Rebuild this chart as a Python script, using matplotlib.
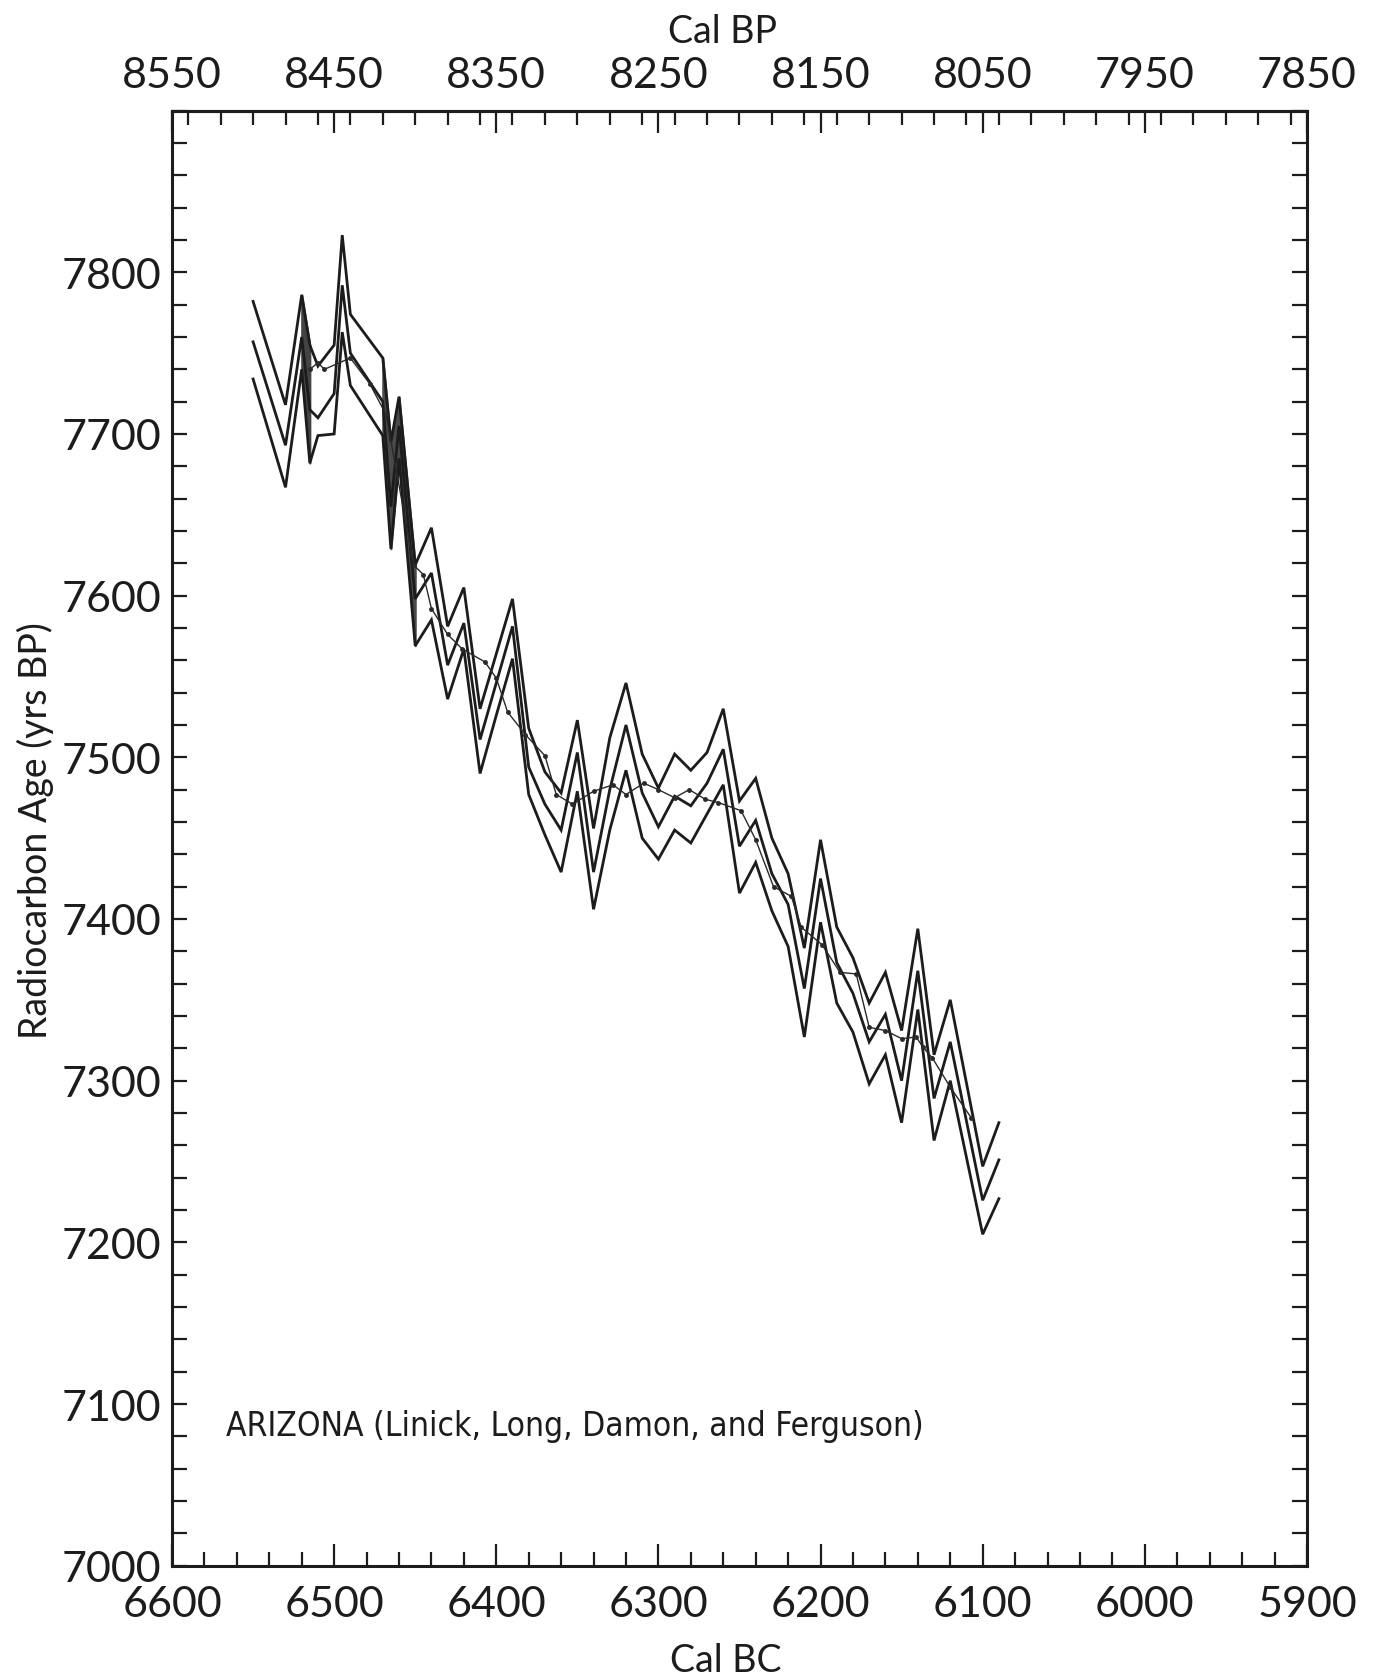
import numpy as np
import matplotlib
matplotlib.use("Agg")
import matplotlib.pyplot as plt
from matplotlib.ticker import MultipleLocator

# calendar years (BC) of the curve vertices
cal_bc = [6550, 6530, 6520, 6515, 6510, 6500, 6495, 6490, 6470, 6465, 6460, 6450,
          6440, 6430, 6420, 6410, 6400, 6390, 6380, 6370, 6360, 6350, 6340, 6330,
          6320, 6310, 6300, 6290, 6280, 6270, 6260, 6250, 6240, 6230, 6220, 6210,
          6200, 6190, 6180, 6170, 6160, 6150, 6140, 6130, 6120, 6100, 6090]

# upper (+1 sigma), central and lower (-1 sigma) radiocarbon ages
age_upper = [7782, 7718, 7786, 7755, 7742, 7755, 7823, 7774, 7747, 7695, 7723, 7619,
             7642, 7581, 7605, 7530, 7564, 7598, 7518, 7491, 7478, 7523, 7456, 7512,
             7546, 7502, 7481, 7502, 7492, 7503, 7530, 7473, 7487, 7450, 7428, 7382,
             7449, 7395, 7376, 7348, 7367, 7331, 7394, 7316, 7350, 7247, 7274]
age_mid = [7757, 7693, 7760, 7715, 7710, 7725, 7792, 7750, 7720, 7655, 7705, 7598,
           7614, 7557, 7583, 7511, 7546, 7581, 7494, 7471, 7455, 7503, 7429, 7480,
           7520, 7478, 7457, 7476, 7470, 7484, 7505, 7445, 7461, 7428, 7409, 7357,
           7425, 7373, 7354, 7324, 7341, 7300, 7368, 7289, 7324, 7226, 7251]
age_lower = [7734, 7667, 7740, 7682, 7699, 7700, 7763, 7730, 7699, 7629, 7685, 7569,
             7585, 7536, 7567, 7490, 7526, 7561, 7477, 7452, 7429, 7479, 7406, 7455,
             7492, 7450, 7437, 7455, 7447, 7465, 7483, 7416, 7435, 7405, 7383, 7327,
             7398, 7348, 7330, 7298, 7316, 7274, 7344, 7263, 7300, 7205, 7227]

# thin comparison curve with small markers
thin_bc = [6515, 6510, 6506, 6490, 6478, 6468, 6451, 6445, 6440, 6430, 6421, 6407,
           6400, 6393, 6382, 6370, 6363, 6353, 6340, 6328, 6320, 6309, 6300, 6290,
           6281, 6271, 6263, 6249, 6240, 6229, 6218, 6212, 6199, 6188, 6178, 6170,
           6160, 6150, 6141, 6137, 6131, 6120, 6107]
thin_age = [7740, 7744, 7740, 7747, 7731, 7712, 7619, 7613, 7592, 7576, 7567, 7559,
            7549, 7528, 7514, 7501, 7477, 7471, 7479, 7483, 7477, 7484, 7480, 7475,
            7480, 7474, 7472, 7467, 7449, 7420, 7414, 7395, 7384, 7367, 7366, 7333,
            7331, 7326, 7327, 7321, 7314, 7296, 7277]

x_ticks = [6600, 6500, 6400, 6300, 6200, 6100, 6000, 5900]
y_ticks = [7000, 7100, 7200, 7300, 7400, 7500, 7600, 7700, 7800]
label_text = "ARIZONA (Linick, Long, Damon, and Ferguson)"

tick_font = ["Lato", "DejaVu Sans"]
text_font = ["DejaVu Sans"]
ink = "#1c1c1c"

fig = plt.figure(figsize=(13.75, 16.81), dpi=100)
ax = fig.add_axes([0.1251, 0.068, 0.8254, 0.8656])

x = np.array(cal_bc)
lo = np.array(age_lower)
hi = np.array(age_upper)
# dark blotches where the band lines run together
ax.fill_between(x, lo, hi, where=(x <= 6522) & (x >= 6515), color="#444444", lw=1.5,
                edgecolor="#444444")
ax.fill_between(x, lo, hi, where=(x <= 6470) & (x >= 6450), color="#4a4a4a", lw=1.5,
                edgecolor="#4a4a4a")

for ys in (age_upper, age_mid, age_lower):
    ax.plot(cal_bc, ys, color=ink, lw=2.0, solid_joinstyle="miter")
ax.plot(thin_bc, thin_age, color="#2a2a2a", lw=1.0, marker=".", ms=5)

ax.set_xlim(6600, 5900)
ax.set_ylim(7000, 7900)

ax.xaxis.set_major_locator(MultipleLocator(100))
ax.xaxis.set_minor_locator(MultipleLocator(20))
ax.yaxis.set_major_locator(MultipleLocator(100))
ax.yaxis.set_minor_locator(MultipleLocator(20))
ax.set_xticks(x_ticks)
ax.set_yticks(y_ticks)
ax.set_xticklabels([str(v) for v in x_ticks])
ax.set_yticklabels([str(v) for v in y_ticks])

ax.tick_params(axis="both", which="both", direction="in", width=1.6, color=ink)
ax.tick_params(axis="x", which="major", length=16, pad=14)
ax.tick_params(axis="x", which="minor", length=10)
ax.tick_params(axis="y", which="both", length=11, right=True, pad=8)
ax.tick_params(labelsize=31, labelcolor=ink)
for lab in ax.get_xticklabels() + ax.get_yticklabels():
    lab.set_family(tick_font)

for sp in ax.spines.values():
    sp.set_linewidth(2.2)
    sp.set_color(ink)

# Cal BP along the top
top = ax.secondary_xaxis("top", functions=(lambda v: v + 1950, lambda v: v - 1950))
top.xaxis.set_major_locator(MultipleLocator(100))
top.xaxis.set_minor_locator(MultipleLocator(20))
top.set_xticks([v + 1950 for v in x_ticks])
top.set_xticklabels([str(v + 1950) for v in x_ticks])
top.tick_params(axis="x", which="both", direction="in", width=1.6, color=ink,
                labelsize=31, labelcolor=ink, pad=12)
top.tick_params(axis="x", which="major", length=16)
top.tick_params(axis="x", which="minor", length=10)
for lab in top.get_xticklabels():
    lab.set_family(tick_font)
top.spines["top"].set_linewidth(2.2)

fig.text(723 / 1375, 1 - 32 / 1681, "Cal BP", ha="center", va="center",
         fontsize=27, family=tick_font, color=ink)
fig.text(726 / 1375, 1 - 1661 / 1681, "Cal BC", ha="center", va="center",
         fontsize=27, family=tick_font, color=ink)
fig.text(35 / 1375, 1 - 831 / 1681, "Radiocarbon Age (yrs BP)", ha="center", va="center",
         rotation=90, fontsize=27, family=tick_font, color=ink)

ax.text(6567, 7087, label_text, ha="left", va="center", fontsize=24,
        family=text_font, fontstretch="condensed", color=ink)

fig.savefig("out.png", dpi=100, facecolor="white")
